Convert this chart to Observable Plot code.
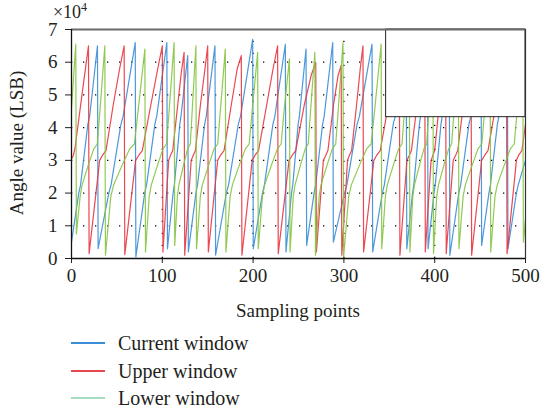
<!DOCTYPE html>
<html><head><meta charset="utf-8">
<script src="https://cdn.jsdelivr.net/npm/d3@7"></script>
<script src="https://cdn.jsdelivr.net/npm/@observablehq/plot@0.6"></script>
<style>
body{margin:0;background:#fff;}
#wrap{position:relative;width:540px;height:413px;font-family:"Liberation Serif",serif;color:#231f20;overflow:hidden;}
#wrap svg{position:absolute;left:0;top:0;}
.leg{position:absolute;left:71px;display:flex;align-items:center;font-size:20px;height:26px;white-space:nowrap;}
.leg .sw{display:inline-block;width:34px;height:2px;margin-right:13px;}
</style></head><body><div id="wrap"></div>
<script>
// values in units of 10^4 LSB
const xTicks = [0, 100, 200, 300, 400, 500];
const yTicks = [0, 1, 2, 3, 4, 5, 6, 7];
const seriesNames = ["Current window", "Upper window", "Lower window"];
const seriesColors = ["#3a8dd6", "#e8343f", "#84c441"];
const legendColors = ["#3a8dd6", "#e8474f", "#a6dcc0"];

const currentWindow = [
[0,0.5],[8,2.0],[10,2.25],[18,4.1],[20,4.35],[28.6,6.5],
[29.3,0.3],[41.1,2.0],[43.6,2.25],[54.4,4.1],[56.9,4.35],[70.2,6.6],
[70.9,0.05],[80.6,2.0],[82.7,2.25],[91.8,4.1],[93.9,4.35],[105,6.6],
[105.7,0.3],[111.9,2.0],[113.3,2.25],[119.3,4.1],[120.6,4.35],[128,6.2],
[128.7,0.2],[137,2.0],[138.8,2.25],[146.6,4.1],[148.4,4.35],[158,6.5],
[158.7,0.1],[170.5,2.0],[173,2.25],[183.7,4.1],[186.2,4.35],[199.5,6.7],
[200.2,0.3],[210.3,2.0],[212.5,2.25],[221.8,4.1],[224,4.35],[235.5,6.55],
[236.2,0.2],[242.3,2.0],[243.7,2.25],[249.6,4.1],[251,4.35],[258.3,6.4],
[259,0.4],[267.1,2.0],[268.9,2.25],[276.5,4.1],[278.3,4.35],[287.7,6.6],
[288.4,0.5],[300.7,2.0],[303.3,2.25],[314.5,4.1],[317.1,4.35],[331,6.55],
[331.7,0.2],[342.3,2.0],[344.5,2.25],[354.3,4.1],[356.6,4.35],[368.6,6.5],
[369.3,0.3],[375.6,2.0],[377,2.25],[383.1,4.1],[384.5,4.35],[392,6.5],
[392.7,0.3],[399.2,2.0],[400.6,2.25],[406.9,4.1],[408.3,4.35],[416,6.5],
[416.7,0.1],[426.5,2.0],[428.6,2.25],[437.7,4.1],[439.8,4.35],[451,6.5],
[451.7,0.4],[459.7,2.0],[461.4,2.25],[469,4.1],[470.7,4.35],[480,6.5],
[480.7,0.3],[490,2.0],[492,2.25],[500,3.0]
];

const upperWindow = [
[0,3.05],[2,3.15],[4,3.4],[12,5.1],[18.7,6.5],
[19.4,0.15],[31,3.0],[34,3.15],[38,3.3],[46,4.7],[53,5.8],[58,6.5],
[58.7,0.12],[70.6,3.0],[74,3.15],[78,3.3],[87.4,4.7],[95,5.8],[100,6.5],
[100.7,0.2],[107,3.0],[109,3.15],[111.5,3.3],[117,4.7],[121,5.7],[124,6.3],
[124.7,0.1],[131.8,3.0],[134,3.15],[136.5,3.3],[142,4.7],[147,5.8],[150,6.5],
[150.7,0.2],[161,3.0],[164,3.15],[168,3.3],[176,4.7],[182.5,5.8],[187,6.2],
[187.7,0.1],[199,3.0],[202,3.15],[206,3.3],[215,4.7],[222,5.8],[227,6.5],
[227.7,0.15],[239.6,3.0],[243,3.15],[247,3.3],[256.4,4.7],[264,5.6],[269,6.0],
[269.7,0.2],[277.4,3.0],[280,3.15],[282.4,3.3],[288.6,4.7],[293.6,5.6],[297,5.9],
[297.7,0.1],[304,3.0],[306,3.15],[308.5,3.3],[314,4.7],[318,5.8],[321,6.5],
[321.7,0.2],[333,3.0],[336,3.15],[340,3.3],[349,4.7],[356,5.8],[361,6.5],
[361.7,0.1],[369.4,3.0],[372,3.15],[374.4,3.3],[380.6,4.7],[385.6,5.8],[389,6.5],
[389.7,0.2],[396,3.0],[398,3.15],[400,3.3],[405,4.7],[409,5.8],[412,6.5],
[412.7,0.15],[420.4,3.0],[423,3.15],[425.4,3.3],[431.6,4.7],[436.6,5.8],[440,6.5],
[440.7,0.1],[451.7,3.0],[455,3.15],[458.7,3.3],[467.3,4.7],[474.3,5.8],[479,6.5],
[479.7,0.15],[490,3.0],[492.3,3.15],[496,3.3],[500,4.1]
];

const lowerWindow = [
[0,4.6],[4.7,6.55],
[5.4,0.75],[9.5,1.9],[11.7,2.25],[19,2.9],[24.5,3.35],[28.4,3.5],[31,4.4],[36.7,6.5],
[37.4,0.1],[43.3,1.9],[46.4,2.25],[56.5,2.9],[64,3.35],[69.3,3.5],[72.9,4.4],[80.8,6.4],
[81.5,0.2],[85.6,1.9],[87.9,2.25],[95.3,2.9],[100.8,3.35],[104.6,3.5],[107.2,4.4],[113,6.6],
[113.7,0.4],[116.6,1.9],[118.3,2.25],[123.8,2.9],[127.9,3.35],[130.8,3.5],[132.7,4.4],[137,6.5],
[137.7,0.3],[141.9,1.9],[144.1,2.25],[151.6,2.9],[157,3.35],[161,3.5],[163.6,4.4],[169.4,6.4],
[170.1,0.2],[174.7,1.9],[177.2,2.25],[185.4,2.9],[191.5,3.35],[195.7,3.5],[198.6,4.4],[205,6.3],
[205.7,0.3],[210.3,1.9],[212.7,2.25],[220.8,2.9],[226.7,3.35],[230.9,3.5],[233.7,4.4],[240,6.1],
[240.7,0.2],[244.2,1.9],[246.2,2.25],[252.6,2.9],[257.4,3.35],[260.7,3.5],[263,4.4],[268,6.3],
[268.7,0.1],[272.7,1.9],[274.8,2.25],[282,2.9],[287.2,3.35],[291,3.5],[293.4,4.4],[299,6.6],
[299.7,0.05],[305.3,1.9],[308.2,2.25],[317.9,2.9],[325,3.35],[330,3.5],[333.4,4.4],[341,6.55],
[341.7,0.3],[345.7,1.9],[347.8,2.25],[355,2.9],[360.2,3.35],[364,3.5],[366.4,4.4],[372,6.5],
[372.7,0.2],[375.9,1.9],[377.7,2.25],[383.7,2.9],[388.1,3.35],[391.2,3.5],[393.3,4.4],[398,6.5],
[398.7,0.15],[402.2,1.9],[404.2,2.25],[410.6,2.9],[415.4,3.35],[418.7,3.5],[421,4.4],[426,6.5],
[426.7,0.3],[431.3,1.9],[433.7,2.25],[441.8,2.9],[447.7,3.35],[451.9,3.5],[454.7,4.4],[461,6.5],
[461.7,0.2],[466.4,1.9],[468.9,2.25],[477.2,2.9],[483.3,3.35],[487.6,3.5],[490.5,4.4],[497,6.5],
[497.7,0.5],[500,1.2]
];

// empty legend box inside the axes (as in the original figure)
const legendBox = [{x1: 346.5, x2: 500, y1: 4.32, y2: 7}];

const allSeries = [currentWindow, upperWindow, lowerWindow];
const gridX = xTicks.slice(1, -1);
const gridY = yTicks.slice(1, -1);

const svg = Plot.plot({
  width: 540, height: 325,
  marginLeft: 71, marginRight: 15, marginTop: 29, marginBottom: 67,
  style: {fontFamily: "'Liberation Serif', serif", fontSize: "19px", background: "transparent", color: "#231f20"},
  x: {domain: [0, 500], ticks: xTicks, label: null, tickSize: 5, tickPadding: 5},
  y: {domain: [0, 7], ticks: yTicks, label: null, tickSize: 6, tickPadding: 8, tickFormat: d => String(d)},
  marks: [
    Plot.ruleX(gridX, {y1: 0, y2: 7, stroke: "#000", strokeWidth: 1.3, strokeDasharray: "1.3,10.7"}),
    Plot.ruleY(gridY, {x1: 0, x2: 500, stroke: "#000", strokeWidth: 1.3, strokeDasharray: "1.3,10.7"}),
    ...allSeries.map((s, i) => Plot.line(s, {x: d => d[0], y: d => d[1], stroke: seriesColors[i], strokeWidth: 1.2, strokeOpacity: 0.9})),
    Plot.rect(legendBox, {x1: "x1", x2: "x2", y1: "y1", y2: "y2", fill: "white", stroke: "#222", strokeWidth: 1}),
    Plot.ruleY([7], {x1: 0, x2: 500, stroke: "#6b6b6b", strokeWidth: 2}),
    Plot.ruleX([500], {y1: 0, y2: 7, stroke: "#333", strokeWidth: 1.2}),
    Plot.ruleX([0], {y1: 0, y2: 7, stroke: "#111", strokeWidth: 1.3}),
    Plot.ruleY([0], {x1: 0, x2: 500, stroke: "#111", strokeWidth: 1.3})
  ]
});

const wrap = document.getElementById("wrap");
wrap.append(svg);
const sel = d3.select(svg);
sel.append("text")
  .attr("transform", "translate(23,143) rotate(-90)")
  .attr("text-anchor", "middle")
  .attr("font-size", 19).attr("fill", "#231f20")
  .text("Angle value (LSB)");
sel.append("text")
  .attr("x", 298).attr("y", 317)
  .attr("text-anchor", "middle")
  .attr("font-size", 19).attr("fill", "#231f20")
  .text("Sampling points");
const mult = sel.append("text").attr("x", 70).attr("y", 18).attr("font-size", 18).attr("fill", "#231f20");
mult.append("tspan").text("×10");
mult.append("tspan").attr("dy", -7).attr("font-size", 12).text("4");

const rowTops = [330, 358, 385];
seriesNames.forEach((name, i) => {
  const row = document.createElement("div");
  row.className = "leg";
  row.style.top = rowTops[i] + "px";
  const sw = document.createElement("span");
  sw.className = "sw";
  sw.style.background = legendColors[i];
  row.append(sw, document.createTextNode(name));
  wrap.append(row);
});
</script></body></html>
